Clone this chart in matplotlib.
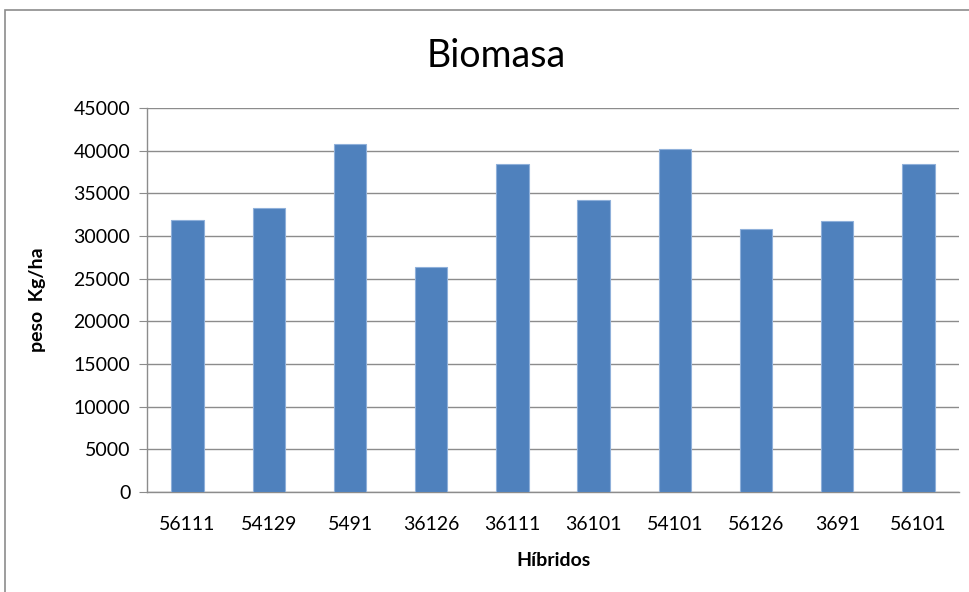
import matplotlib.pyplot as plt
from matplotlib.patches import Rectangle

hibridos = ["56111", "54129", "5491", "36126", "36111", "36101", "54101", "56126", "3691", "56101"]
peso = [31870, 33250, 40800, 26330, 38450, 34190, 40150, 30820, 31760, 38450]
yticks = list(range(0, 45001, 5000))

plt.rcParams['font.family'] = ['Lato', 'DejaVu Sans']

fig = plt.figure(figsize=(9.69, 5.92), dpi=100)
# outer chart border (cut off at right and bottom like the screenshot)
fig.patches.append(Rectangle((5 / 969, -0.05), 1.2, 1 - 10 / 592 + 0.05,
                             transform=fig.transFigure, fill=False,
                             edgecolor='#8c8c8c', linewidth=1.2))

ax = fig.add_axes([147 / 969, 100 / 592, 812 / 969, 384 / 592])
x = range(len(hibridos))
ax.bar(x, peso, width=0.4, color='#4F81BD', edgecolor='#8FB0DA', linewidth=0.8, zorder=3)

ax.set_xlim(-0.5, len(hibridos) - 0.5)
ax.set_ylim(0, 45000)
ax.set_yticks(yticks)
ax.set_yticklabels([str(v) for v in yticks], fontsize=14)
ax.set_xticks(list(x))
ax.set_xticklabels(hibridos, fontsize=14)
ax.tick_params(axis='x', length=0, pad=17)
ax.tick_params(axis='y', length=6, color='#8c8c8c', pad=6)
ax.grid(axis='y', color='#8c8c8c', linewidth=1, zorder=0)

for side in ['top', 'right']:
    ax.spines[side].set_visible(False)
for side in ['left', 'bottom']:
    ax.spines[side].set_color('#8c8c8c')
    ax.spines[side].set_linewidth(1)

fig.text(496 / 969, 1 - 56 / 592, "Biomasa", fontsize=27, ha='center', va='center')
ax.set_xlabel("Híbridos", fontsize=14, fontweight='bold', labelpad=14)
ax.set_ylabel("peso  Kg/ha", fontsize=14, fontweight='bold', labelpad=20)

fig.savefig("out.png", dpi=100)
